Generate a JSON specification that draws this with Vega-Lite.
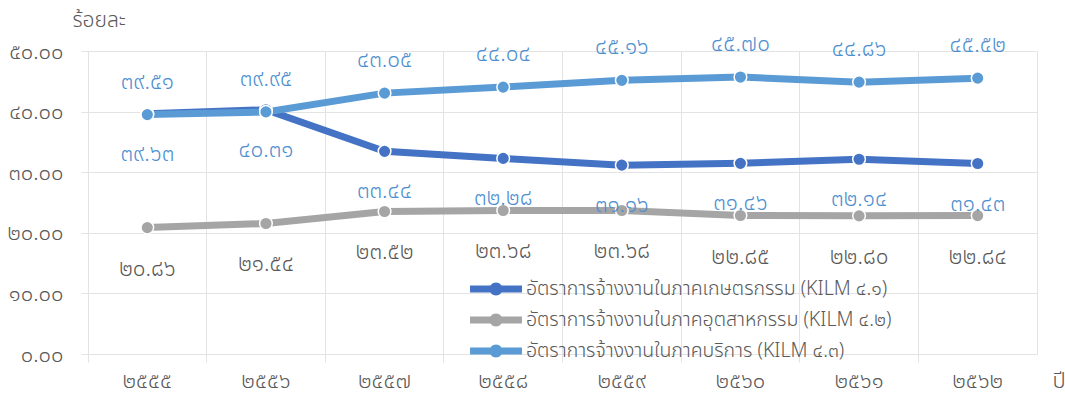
{
  "$schema": "https://vega.github.io/schema/vega-lite/v6.json",
  "autosize": {"type": "none"},
  "width": 949,
  "height": 303,
  "padding": {"left": 88, "top": 51, "right": 28, "bottom": 44},
  "background": "white",
  "config": {
    "font": "Noto Sans Thai",
    "view": {"stroke": "#e3e3e3", "strokeWidth": 1},
    "text": {"font": "Noto Sans Thai", "fontWeight": 300},
    "axis": {"labelFont": "Noto Sans Thai", "labelFontWeight": 300, "titleFont": "Noto Sans Thai", "titleFontWeight": 300},
    "legend": {"labelFont": "Noto Sans Thai", "labelFontWeight": 300}
  },
  "data": {
    "values": [
      {"year": "๒๕๕๕", "series": "อัตราการจ้างงานในภาคเกษตรกรรม (KILM ๔.๑)", "value": 39.63},
      {"year": "๒๕๕๖", "series": "อัตราการจ้างงานในภาคเกษตรกรรม (KILM ๔.๑)", "value": 40.31},
      {"year": "๒๕๕๗", "series": "อัตราการจ้างงานในภาคเกษตรกรรม (KILM ๔.๑)", "value": 33.44},
      {"year": "๒๕๕๘", "series": "อัตราการจ้างงานในภาคเกษตรกรรม (KILM ๔.๑)", "value": 32.28},
      {"year": "๒๕๕๙", "series": "อัตราการจ้างงานในภาคเกษตรกรรม (KILM ๔.๑)", "value": 31.16},
      {"year": "๒๕๖๐", "series": "อัตราการจ้างงานในภาคเกษตรกรรม (KILM ๔.๑)", "value": 31.46},
      {"year": "๒๕๖๑", "series": "อัตราการจ้างงานในภาคเกษตรกรรม (KILM ๔.๑)", "value": 32.14},
      {"year": "๒๕๖๒", "series": "อัตราการจ้างงานในภาคเกษตรกรรม (KILM ๔.๑)", "value": 31.43},
      {"year": "๒๕๕๕", "series": "อัตราการจ้างงานในภาคอุตสาหกรรม (KILM ๔.๒)", "value": 20.86},
      {"year": "๒๕๕๖", "series": "อัตราการจ้างงานในภาคอุตสาหกรรม (KILM ๔.๒)", "value": 21.54},
      {"year": "๒๕๕๗", "series": "อัตราการจ้างงานในภาคอุตสาหกรรม (KILM ๔.๒)", "value": 23.52},
      {"year": "๒๕๕๘", "series": "อัตราการจ้างงานในภาคอุตสาหกรรม (KILM ๔.๒)", "value": 23.68},
      {"year": "๒๕๕๙", "series": "อัตราการจ้างงานในภาคอุตสาหกรรม (KILM ๔.๒)", "value": 23.68},
      {"year": "๒๕๖๐", "series": "อัตราการจ้างงานในภาคอุตสาหกรรม (KILM ๔.๒)", "value": 22.85},
      {"year": "๒๕๖๑", "series": "อัตราการจ้างงานในภาคอุตสาหกรรม (KILM ๔.๒)", "value": 22.80},
      {"year": "๒๕๖๒", "series": "อัตราการจ้างงานในภาคอุตสาหกรรม (KILM ๔.๒)", "value": 22.84},
      {"year": "๒๕๕๕", "series": "อัตราการจ้างงานในภาคบริการ (KILM ๔.๓)", "value": 39.51},
      {"year": "๒๕๕๖", "series": "อัตราการจ้างงานในภาคบริการ (KILM ๔.๓)", "value": 39.95},
      {"year": "๒๕๕๗", "series": "อัตราการจ้างงานในภาคบริการ (KILM ๔.๓)", "value": 43.05},
      {"year": "๒๕๕๘", "series": "อัตราการจ้างงานในภาคบริการ (KILM ๔.๓)", "value": 44.04},
      {"year": "๒๕๕๙", "series": "อัตราการจ้างงานในภาคบริการ (KILM ๔.๓)", "value": 45.16},
      {"year": "๒๕๖๐", "series": "อัตราการจ้างงานในภาคบริการ (KILM ๔.๓)", "value": 45.70},
      {"year": "๒๕๖๑", "series": "อัตราการจ้างงานในภาคบริการ (KILM ๔.๓)", "value": 44.86},
      {"year": "๒๕๖๒", "series": "อัตราการจ้างงานในภาคบริการ (KILM ๔.๓)", "value": 45.52}
    ]
  },
  "encoding": {
    "x": {
      "field": "year", "type": "ordinal", "sort": null,
      "scale": {"type": "band", "paddingInner": 0, "paddingOuter": 0},
      "axis": {
        "title": "ปี", "titleAngle": 0, "titleX": 964, "titleY": 26, "titleAlign": "left",
        "titleBaseline": "middle", "titleFontSize": 22, "titleColor": "#595959",
        "labelAngle": 0, "labelFontSize": 22, "labelColor": "#595959", "labelPadding": 8,
        "bandPosition": 0, "grid": true, "gridColor": "#e3e3e3", "ticks": true, "tickColor": "#e3e3e3",
        "tickSize": 8, "domain": false
      }
    },
    "y": {
      "field": "value", "type": "quantitative",
      "scale": {"domain": [0, 50], "nice": false, "zero": true},
      "axis": {
        "title": "ร้อยละ", "titleAngle": 0, "titleX": -16, "titleY": -31, "titleAlign": "left",
        "titleBaseline": "middle", "titleFontSize": 21, "titleColor": "#595959",
        "values": [0, 10, 20, 30, 40, 50],
        "labelExpr": "replace(replace(replace(replace(replace(replace(replace(replace(replace(replace(format(datum.value,'.2f'),regexp('0','g'),'๐'),regexp('1','g'),'๑'),regexp('2','g'),'๒'),regexp('3','g'),'๓'),regexp('4','g'),'๔'),regexp('5','g'),'๕'),regexp('6','g'),'๖'),regexp('7','g'),'๗'),regexp('8','g'),'๘'),regexp('9','g'),'๙')",
        "labelFontSize": 22, "labelColor": "#595959", "labelPadding": 18,
        "grid": true, "gridColor": "#e3e3e3", "ticks": true, "tickColor": "#e3e3e3", "tickSize": 7,
        "domain": false
      }
    },
    "color": {
      "field": "series", "type": "nominal",
      "scale": {
        "domain": ["อัตราการจ้างงานในภาคเกษตรกรรม (KILM ๔.๑)", "อัตราการจ้างงานในภาคอุตสาหกรรม (KILM ๔.๒)", "อัตราการจ้างงานในภาคบริการ (KILM ๔.๓)"],
        "range": ["#4472c4", "#a5a5a5", "#5b9bd5"]
      },
      "legend": {
        "title": null, "orient": "none", "legendX": 397, "legendY": 227,
        "symbolType": "M-2.36,-0.32H2.36V0.32H-2.36Z M0.59,0 A0.59,0.59 0 1,1 -0.59,0 A0.59,0.59 0 1,1 0.59,0Z",
        "symbolSize": 484, "symbolStrokeWidth": 0, "symbolOpacity": 1,
        "labelFontSize": 19.5, "labelColor": "#595959", "labelOffset": 19, "labelLimit": 600,
        "rowPadding": 10, "padding": 0
      }
    }
  },
  "layer": [
    {"mark": {"type": "line", "strokeWidth": 7}, "encoding": {"detail": {"field": "series"}}},
    {"mark": {"type": "point", "shape": "circle", "filled": true, "size": 160, "opacity": 1, "stroke": "white", "strokeWidth": 1.5}},
    {
      "transform": [{"filter": "datum.series == 'อัตราการจ้างงานในภาคบริการ (KILM ๔.๓)'"}],
      "mark": {"type": "text", "dy": -33, "fontSize": 22.5, "font": "Noto Sans Thai", "fontWeight": 300,
        "text": {"expr": "replace(replace(replace(replace(replace(replace(replace(replace(replace(replace(format(datum.value,'.2f'),regexp('0','g'),'๐'),regexp('1','g'),'๑'),regexp('2','g'),'๒'),regexp('3','g'),'๓'),regexp('4','g'),'๔'),regexp('5','g'),'๕'),regexp('6','g'),'๖'),regexp('7','g'),'๗'),regexp('8','g'),'๘'),regexp('9','g'),'๙')"}},
      "encoding": {"color": {"value": "#4d8fcf"}}
    },
    {
      "transform": [{"filter": "datum.series == 'อัตราการจ้างงานในภาคเกษตรกรรม (KILM ๔.๑)'"}],
      "mark": {"type": "text", "dy": 40, "fontSize": 22.5, "font": "Noto Sans Thai", "fontWeight": 300,
        "text": {"expr": "replace(replace(replace(replace(replace(replace(replace(replace(replace(replace(format(datum.value,'.2f'),regexp('0','g'),'๐'),regexp('1','g'),'๑'),regexp('2','g'),'๒'),regexp('3','g'),'๓'),regexp('4','g'),'๔'),regexp('5','g'),'๕'),regexp('6','g'),'๖'),regexp('7','g'),'๗'),regexp('8','g'),'๘'),regexp('9','g'),'๙')"}},
      "encoding": {"color": {"value": "#4d8fcf"}}
    },
    {
      "transform": [{"filter": "datum.series == 'อัตราการจ้างงานในภาคอุตสาหกรรม (KILM ๔.๒)'"}],
      "mark": {"type": "text", "dy": 41, "fontSize": 22.5, "font": "Noto Sans Thai", "fontWeight": 300,
        "text": {"expr": "replace(replace(replace(replace(replace(replace(replace(replace(replace(replace(format(datum.value,'.2f'),regexp('0','g'),'๐'),regexp('1','g'),'๑'),regexp('2','g'),'๒'),regexp('3','g'),'๓'),regexp('4','g'),'๔'),regexp('5','g'),'๕'),regexp('6','g'),'๖'),regexp('7','g'),'๗'),regexp('8','g'),'๘'),regexp('9','g'),'๙')"}},
      "encoding": {"color": {"value": "#595959"}}
    }
  ]
}
